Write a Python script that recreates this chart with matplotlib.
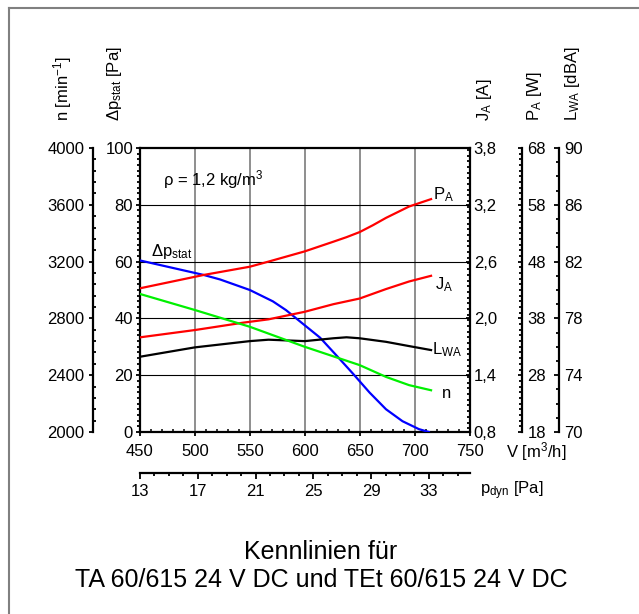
import matplotlib
matplotlib.use('Agg')
import matplotlib.pyplot as plt
from matplotlib.ticker import MultipleLocator, FixedLocator, FuncFormatter
from matplotlib.lines import Line2D

plt.rcParams['font.family'] = ['Liberation Sans', 'DejaVu Sans']
plt.rcParams['mathtext.fontset'] = 'custom'
plt.rcParams['mathtext.rm'] = 'Liberation Sans'
plt.rcParams['mathtext.it'] = 'Liberation Sans:italic'
plt.rcParams['mathtext.default'] = 'regular'

# ---- characteristic curves (air flow V in m3/h) ----
v_dp = [450, 508, 523, 550, 571, 583, 598, 614, 629, 644, 659, 674, 689, 704, 713]
dp_stat = [60.4, 55.3, 53.7, 50.0, 46.0, 42.9, 38.2, 33.2, 26.9, 20.5, 13.9, 8.0, 3.8, 1.0, 0.0]  # Pa

v_pa = [450, 508, 550, 567, 600, 626, 638, 650, 662, 674, 695, 715]
p_a = [43.3, 45.65, 47.1, 48.0, 49.8, 51.5, 52.3, 53.2, 54.4, 55.7, 57.7, 59.0]          # W

v_ja = [450, 500, 544, 567, 600, 626, 650, 674, 695, 715]
j_a = [1.80, 1.877, 1.955, 1.99, 2.07, 2.15, 2.21, 2.31, 2.39, 2.45]                     # A

v_lwa = [450, 500, 550, 567, 600, 626, 638, 650, 674, 695, 715]
l_wa = [75.3, 75.96, 76.4, 76.5, 76.4, 76.6, 76.67, 76.6, 76.35, 76.05, 75.77]           # dBA

v_n = [450, 500, 550, 600, 650, 674, 695, 715]
n_rpm = [2972, 2859, 2741, 2600, 2471, 2388, 2330, 2294]                                 # 1/min

# ---- axis scales ----
v_ticks = [450, 500, 550, 600, 650, 700, 750]
dp_ticks = [0, 20, 40, 60, 80, 100]
n_ticks = [2000, 2400, 2800, 3200, 3600, 4000]
ja_ticks = [0.8, 1.4, 2.0, 2.6, 3.2, 3.8]
pa_ticks = [18, 28, 38, 48, 58, 68]
lwa_ticks = [70, 74, 78, 82, 86, 90]
pdyn_ticks = [13, 17, 21, 25, 29, 33]
pdyn_range = (13, 35.81)

title_lines = ['Kennlinien für', 'TA 60/615 24 V DC und TEt 60/615 24 V DC']

W, H = 639, 614
fig = plt.figure(figsize=(W / 100, H / 100), dpi=100)


def box(l, t, r, b):
    return [l / W, 1 - b / H, (r - l) / W, (b - t) / H]


def fx(x):
    return x / W


def fy(y):
    return 1 - y / H


FS = 12
SPW = 1.6
LW = 1.6
RED, BLUE, GREEN = '#ff0000', '#0000ff', '#00f000'

ax = fig.add_axes(box(140, 148, 469.5, 432))
ax.set_xlim(450, 750)
ax.set_ylim(0, 100)
for s in ax.spines.values():
    s.set_linewidth(SPW)

ax.xaxis.set_major_locator(FixedLocator(v_ticks))
ax.xaxis.set_minor_locator(MultipleLocator(10))
ax.yaxis.set_major_locator(FixedLocator(dp_ticks))
ax.yaxis.set_minor_locator(MultipleLocator(2))
ax.tick_params(axis='x', which='major', direction='out', length=3, width=1.3, labelsize=FS, pad=6)
ax.tick_params(axis='x', which='minor', direction='in', length=2, width=1.1)
ax.tick_params(axis='y', which='major', direction='out', length=3, width=1.3, labelsize=FS, pad=2)
ax.tick_params(axis='y', which='minor', direction='out', length=2.2, width=1.3)
ax.tick_params(axis='y', right=False, which='both')
ax.tick_params(axis='x', top=False, which='both')

for v in v_ticks[1:-1]:
    ax.axvline(v, color='#707070', lw=1.1, zorder=1)
for p in dp_ticks[1:-1]:
    ax.axhline(p, color='black', lw=0.8, zorder=1)

ax.plot(v_dp, dp_stat, color=BLUE, lw=LW, zorder=3)


def make_twin(ylim, ticks, minor, fmt=None):
    t = ax.twinx()
    t.set_ylim(*ylim)
    t.patch.set_visible(False)
    for s in t.spines.values():
        s.set_visible(False)
    t.yaxis.set_major_locator(FixedLocator(ticks))
    t.yaxis.set_minor_locator(MultipleLocator(minor))
    if fmt is not None:
        t.yaxis.set_major_formatter(FuncFormatter(fmt))
    return t


# current J_A on the main right spine
axJ = make_twin((0.8, 3.8), ja_ticks, 0.06, lambda v, p: f'{v:.1f}'.replace('.', ','))
axJ.tick_params(axis='y', which='major', direction='in', length=3, width=1.3, labelsize=FS, pad=3)
axJ.tick_params(axis='y', which='minor', direction='in', length=2.2, width=1.3)
axJ.plot(v_ja, j_a, color=RED, lw=LW)

# power input P_A
axP = make_twin((18, 68), pa_ticks, 1)
axP.spines['right'].set_visible(True)
axP.spines['right'].set_position(('axes', (522 - 140) / 329.5))
axP.spines['right'].set_linewidth(SPW)
axP.tick_params(axis='y', which='major', direction='in', length=3, width=1.3, labelsize=FS, pad=4)
axP.tick_params(axis='y', which='minor', direction='in', length=2.2, width=1.3)
axP.plot(v_pa, p_a, color=RED, lw=LW)

# sound power level L_WA
axL = make_twin((70, 90), lwa_ticks, 1)
axL.spines['right'].set_visible(True)
axL.spines['right'].set_position(('axes', (559 - 140) / 329.5))
axL.spines['right'].set_linewidth(SPW)
axL.tick_params(axis='y', which='major', direction='in', length=3.5, width=1.3, labelsize=FS, pad=4)
axL.tick_params(axis='y', which='minor', direction='in', length=2.5, width=1.3)
axL.plot(v_lwa, l_wa, color='black', lw=LW)

# speed n on the far left
axN = make_twin((2000, 4000), n_ticks, 80)
axN.spines['left'].set_visible(True)
axN.spines['left'].set_position(('axes', (93 - 140) / 329.5))
axN.spines['left'].set_linewidth(SPW)
axN.yaxis.set_ticks_position('left')
axN.yaxis.set_label_position('left')
axN.tick_params(axis='y', which='major', direction='out', length=3, width=1.3, labelsize=FS, pad=3)
axN.tick_params(axis='y', which='minor', direction='in', length=2.5, width=1.3)
axN.plot(v_n, n_rpm, color=GREEN, lw=LW)

# dynamic pressure scale below the flow axis
axD = ax.twiny()
axD.set_xlim(*pdyn_range)
axD.patch.set_visible(False)
for s in axD.spines.values():
    s.set_visible(False)
axD.spines['bottom'].set_visible(True)
axD.spines['bottom'].set_position(('axes', -(473 - 432) / 284))
axD.spines['bottom'].set_linewidth(SPW)
axD.xaxis.set_ticks_position('bottom')
axD.xaxis.set_major_locator(FixedLocator(pdyn_ticks))
axD.xaxis.set_minor_locator(MultipleLocator(1))
axD.tick_params(axis='x', which='major', direction='out', length=4, width=1.3, labelsize=FS, pad=4)
axD.tick_params(axis='x', which='minor', direction='out', length=2, width=1.3)

# curve labels inside the plot
ax.text(471, 88.8, r'$\rho$ = 1,2 kg/m$^3$', fontsize=FS, va='center', ha='left', zorder=5)
ax.text(460, 63.5, r'$\Delta$p$_{stat}$', fontsize=FS, va='center', ha='left', zorder=5)
ax.text(717, 83.5, 'P$_A$', fontsize=FS, va='center', ha='left', zorder=5)
ax.text(719, 51.8, 'J$_A$', fontsize=FS, va='center', ha='left', zorder=5)
ax.text(716, 29.1, 'L$_{WA}$', fontsize=FS, va='center', ha='left', zorder=5)
ax.text(725, 13.5, 'n', fontsize=FS, va='center', ha='left', zorder=5)

# axis titles
for x, label in [(63, r'n [min$^{-1}$]'), (115, r'$\Delta$p$_{stat}$ [Pa]'),
                 (485, 'J$_A$ [A]'), (535, 'P$_A$ [W]'), (573, 'L$_{WA}$ [dBA]')]:
    fig.text(fx(x), fy(121), label, rotation=90, ha='center', va='bottom', fontsize=FS)

fig.text(fx(506), fy(452), r'V [m$^3$/h]', ha='left', va='center', fontsize=FS)
fig.text(fx(480), fy(491), r'p$_{dyn}$ [Pa]', ha='left', va='center', fontsize=FS)

fig.text(fx(321), fy(552), title_lines[0], ha='center', va='center', fontsize=18)
fig.text(fx(321), fy(580), title_lines[1], ha='center', va='center', fontsize=18)

# outer frame
fig.add_artist(Line2D([fx(9), fx(9)], [0, fy(8)], transform=fig.transFigure, color='#808080', lw=1.5))
fig.add_artist(Line2D([fx(9), 1], [fy(8), fy(8)], transform=fig.transFigure, color='#808080', lw=1.5))

fig.savefig('out.png', dpi=100)
